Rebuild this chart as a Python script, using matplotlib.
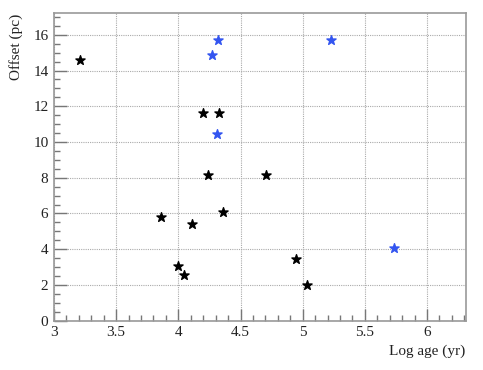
import matplotlib
matplotlib.use("Agg")
import matplotlib.pyplot as plt
from matplotlib.ticker import MultipleLocator

# black stars
black_age = [3.21, 4.195, 4.326, 4.238, 4.704, 3.858, 4.107, 4.356, 3.999, 4.048, 4.945, 5.036]
black_off = [14.6, 11.61, 11.61, 8.16, 8.16, 5.82, 5.40, 6.10, 3.06, 2.54, 3.47, 1.98]

# blue stars
blue_age = [4.316, 4.273, 4.308, 5.224, 5.731]
blue_off = [15.72, 14.88, 10.45, 15.72, 4.07]

plt.rcParams["font.family"] = ["Liberation Serif", "DejaVu Serif"]

fig = plt.figure(figsize=(4.83, 3.70), dpi=100)
ax = fig.add_axes([0.1118, 0.1332, 0.8522, 0.8308])

ax.scatter(black_age, black_off, marker="*", s=48, color="black",
           edgecolors="black", linewidths=1.0, zorder=3)
ax.scatter(blue_age, blue_off, marker="*", s=48, color="#3355f0",
           edgecolors="#3355f0", linewidths=1.0, zorder=3)

ax.set_xlim(3.0, 6.31)
ax.set_ylim(0, 17.2)
ax.xaxis.set_major_locator(MultipleLocator(0.5))
ax.xaxis.set_minor_locator(MultipleLocator(0.1))
ax.yaxis.set_major_locator(MultipleLocator(2))
ax.yaxis.set_minor_locator(MultipleLocator(0.5))
ax.set_xticks([3, 3.5, 4, 4.5, 5, 5.5, 6])
ax.set_xticklabels(["3", "3.5", "4", "4.5", "5", "5.5", "6"])

ax.grid(True, which="major", linestyle=(0, (1, 1)), color="#aaaaaa", linewidth=0.8)
ax.set_axisbelow(True)

ax.tick_params(which="both", direction="in", top=False, right=False,
               colors="#777777", labelcolor="#222222", labelsize=11)
ax.tick_params(which="major", length=9, width=1.0, pad=4)
ax.tick_params(which="minor", length=4.5, width=1.0)
for sp in ax.spines.values():
    sp.set_color("#999999")
    sp.set_linewidth(1.2)

ax.set_xlabel("Log age (yr)", fontsize=11, color="#222222", loc="right", labelpad=4)
ax.set_ylabel("Offset (pc)", fontsize=11, color="#222222", loc="top", labelpad=7)

fig.savefig("out.png", dpi=100)
